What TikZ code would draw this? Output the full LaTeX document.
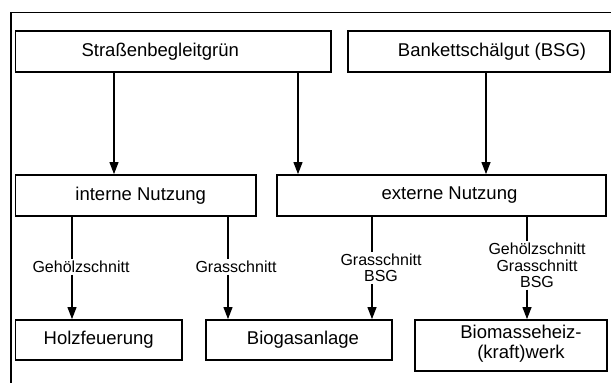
\documentclass[tikz,border=0pt]{standalone}
\usepackage{fontspec}
\setmainfont{Liberation Sans}
\usetikzlibrary{arrows.meta}
\begin{document}
\begin{tikzpicture}[x=1pt,y=-1pt,
  box/.style={draw, line width=1.8pt, inner sep=0pt},
  btext/.style={font=\fontsize{18.5}{20}\selectfont, align=center, inner sep=0pt},
  conn/.style={line width=1.1pt},
  arr/.style={conn, -{Triangle[length=12pt,width=9pt]}},
  lab/.style={font=\fontsize{16}{16.5}\selectfont, align=center, inner sep=1.5pt}]
\useasboundingbox (0,0) rectangle (611,383);

% open frame along the top and left edge
\draw[line width=1.2pt] (11,383) -- (11,12.5) -- (611,12.5);

% sources
\node[box, minimum width=315.5pt, minimum height=41pt,
  label={[name=SBt, btext, xshift=-13pt]center:Straßenbegleitgrün}] (SB) at (173.25,51.5) {};
\node[box, minimum width=262pt, minimum height=41pt,
  label={[name=BSGt, btext, xshift=13pt]center:Bankettschälgut (BSG)}] (BSG) at (479,51.5) {};

% kinds of use
\node[box, minimum width=240.5pt, minimum height=41pt,
  label={[name=INt, btext, xshift=5pt]center:interne Nutzung}] (IN) at (135.75,195.5) {};
\node[box, minimum width=329pt, minimum height=41pt,
  label={[name=EXt, btext, xshift=8pt]center:externe Nutzung}] (EX) at (441.5,195.5) {};

% plants
\node[box, minimum width=166.5pt, minimum height=40pt,
  label={[name=HOt, btext]center:Holzfeuerung}] (HO) at (98.75,340) {};
\node[box, minimum width=186pt, minimum height=40pt,
  label={[name=BGt, btext, xshift=4pt]center:Biogasanlage}] (BG) at (299,340) {};
\node[box, minimum width=192pt, minimum height=51pt,
  label={[name=BMt, btext, xshift=10pt, yshift=2pt]center:Biomasseheiz-\\(kraft)werk}] (BM) at (511,345.5) {};

% x positions of the connectors
\coordinate (x1) at (114,0);
\coordinate (x2) at (298,0);
\coordinate (x3) at (486,0);
\coordinate (x4) at (72,0);
\coordinate (x5) at (228,0);
\coordinate (x6) at (372,0);
\coordinate (x7) at (527,0);

% sources to kinds of use
\draw[arr] (SB.south -| x1) -- (IN.north -| x1);
\draw[arr] (SB.south -| x2) -- (EX.north -| x2);
\draw[arr] (BSG.south -| x3) -- (EX.north -| x3);

% material labels
\node[lab] (L1) at (81,267) {Gehölzschnitt};
\node[lab] (L2) at (236,267) {Grasschnitt};
\node[lab] (L3) at (381,268) {Grasschnitt\\BSG};
\node[lab] (L4) at (537,265.5) {Gehölzschnitt\\Grasschnitt\\BSG};

% kinds of use to plants
\draw[conn] (IN.south -| x4) -- (L1.north -| x4);
\draw[arr] (L1.south -| x4) -- (HO.north -| x4);
\draw[conn] (IN.south -| x5) -- (L2.north -| x5);
\draw[arr] (L2.south -| x5) -- (BG.north -| x5);
\draw[conn] (EX.south -| x6) -- (L3.north -| x6);
\draw[arr] (L3.south -| x6) -- (BG.north -| x6);
\draw[conn] (EX.south -| x7) -- (L4.north -| x7);
\draw[arr] (L4.south -| x7) -- (BM.north -| x7);
\end{tikzpicture}
\end{document}
